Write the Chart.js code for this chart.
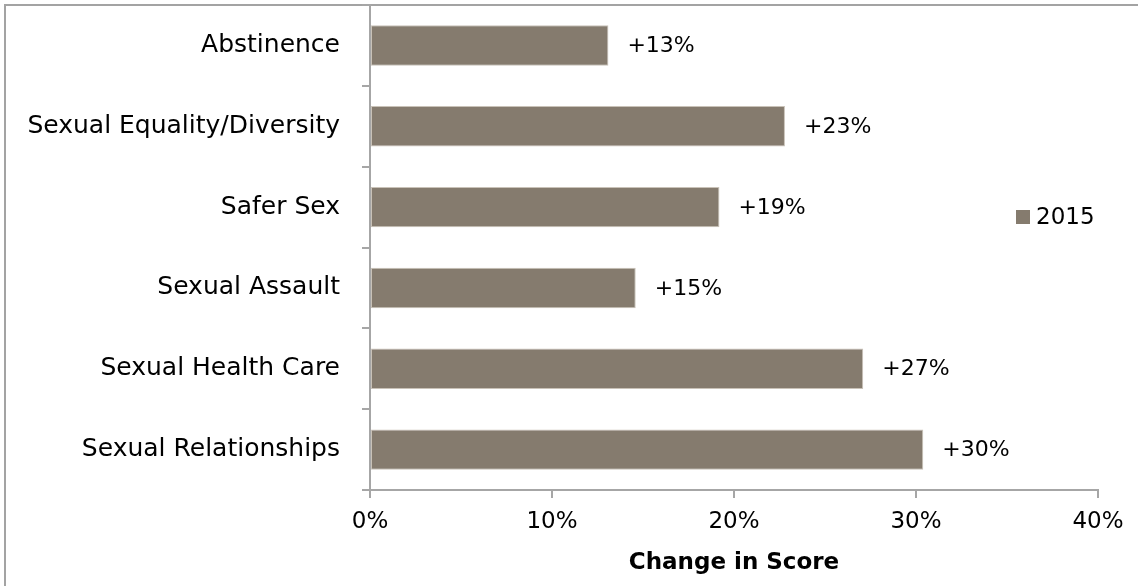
<!DOCTYPE html>
<html>
<head>
<meta charset="utf-8">
<script src="https://cdn.jsdelivr.net/npm/chart.js@4"></script>
<style>
    html, body { margin: 0; padding: 0; background: #fff; }
    #wrap { width: 1138px; height: 586px; }
</style>
</head>
<body>
<div id="wrap"><canvas id="chart" width="1138" height="586"></canvas></div>
<script>
const categories = [
    'Abstinence',
    'Sexual Equality/Diversity',
    'Safer Sex',
    'Sexual Assault',
    'Sexual Health Care',
    'Sexual Relationships'
];
const scores2015 = [13.1, 22.8, 19.2, 14.6, 27.1, 30.4];
const valueLabels = ['+13%', '+23%', '+19%', '+15%', '+27%', '+30%'];
const xTicks = [0, 10, 20, 30, 40];
const seriesName = '2015';

const FONT = 'DejaVu Sans';
const barColor = 'rgb(133, 123, 110)';
const axisColor = '#a6a6a6';

// frame line at top and left, like the original slide
const framePlugin = {
    id: 'frame',
    beforeDraw(chart) {
        const ctx = chart.ctx;
        ctx.save();
        ctx.strokeStyle = '#a3a3a3';
        ctx.lineWidth = 2;
        ctx.beginPath();
        ctx.moveTo(5, chart.height);
        ctx.lineTo(5, 5);
        ctx.lineTo(chart.width, 5);
        ctx.stroke();
        ctx.restore();
    }
};

// "+13%" etc. next to each bar end
const barLabelPlugin = {
    id: 'barLabels',
    afterDatasetsDraw(chart) {
        const ctx = chart.ctx;
        const meta = chart.getDatasetMeta(0);
        ctx.save();
        ctx.font = '22px "' + FONT + '"';
        ctx.fillStyle = '#000';
        ctx.textAlign = 'left';
        ctx.textBaseline = 'middle';
        meta.data.forEach((bar, i) => {
            ctx.fillText(valueLabels[i], bar.x + 19, bar.y + 1);
        });
        ctx.restore();
    }
};

// legend sits inside the plot, to the right
const legendPlugin = {
    id: 'insideLegend',
    afterDraw(chart) {
        const ctx = chart.ctx;
        const ds = chart.data.datasets[0];
        ctx.save();
        ctx.fillStyle = ds.backgroundColor;
        ctx.fillRect(1016, 210, 14, 14);
        ctx.font = '23px "' + FONT + '"';
        ctx.fillStyle = '#000';
        ctx.textAlign = 'left';
        ctx.textBaseline = 'middle';
        ctx.fillText(ds.label, 1036, 218);
        ctx.restore();
    }
};

new Chart(document.getElementById('chart'), {
    type: 'bar',
    data: {
        labels: categories,
        datasets: [{
            label: seriesName,
            data: scores2015,
            backgroundColor: barColor,
            borderColor: '#c9c2b8',
            borderWidth: 1,
            borderSkipped: false,
            barPercentage: 0.5,
            categoryPercentage: 1.0
        }]
    },
    options: {
        indexAxis: 'y',
        responsive: false,
        animation: false,
        layout: { padding: { top: 5, right: 40, left: 0, bottom: 0 } },
        plugins: {
            legend: { display: false },
            tooltip: { enabled: false }
        },
        scales: {
            x: {
                min: 0,
                max: 40,
                afterBuildTicks: (axis) => { axis.ticks = xTicks.map(v => ({ value: v })); },
                afterFit: (axis) => { axis.height = 96; axis.paddingLeft = 0; axis.paddingRight = 0; },
                grid: { drawOnChartArea: false, drawTicks: true, tickLength: 8, color: axisColor, lineWidth: 2 },
                border: { color: axisColor, width: 2 },
                ticks: {
                    padding: 10,
                    color: '#000',
                    font: { family: FONT, size: 23 },
                    callback: (v) => v + '%'
                },
                title: {
                    display: true,
                    text: 'Change in Score',
                    color: '#000',
                    font: { family: FONT, size: 23, weight: 'bold' },
                    padding: { top: 0, bottom: 9 }
                }
            },
            y: {
                afterFit: (axis) => { axis.width = 370; axis.paddingTop = 0; axis.paddingBottom = 0; },
                grid: { drawOnChartArea: false, drawTicks: true, tickLength: 8, color: axisColor, lineWidth: 2, offset: true },
                border: { color: axisColor, width: 2 },
                ticks: {
                    padding: 22,
                    color: '#000',
                    font: { family: FONT, size: 25 }
                }
            }
        }
    },
    plugins: [framePlugin, barLabelPlugin, legendPlugin]
});
</script>
</body>
</html>
